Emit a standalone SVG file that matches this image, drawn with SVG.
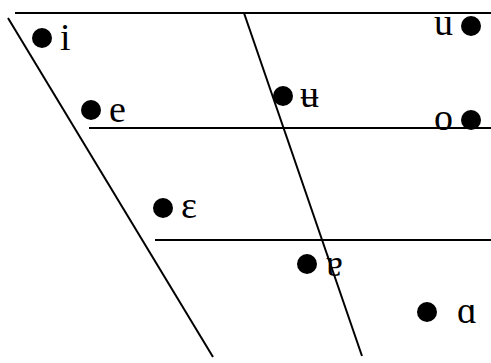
<svg xmlns="http://www.w3.org/2000/svg" width="491" height="363" viewBox="0 0 491 363">
<style>
.ln{stroke:#000;stroke-width:2;fill:none}
.dot{fill:#000}
.lb{font-family:"Liberation Serif","Times New Roman",serif;font-size:38px;fill:#000}
</style>
<rect width="491" height="363" fill="#fff"/>
<g id="connectors">
<line class="ln" x1="15" y1="13" x2="491" y2="13"/>
<line class="ln" x1="89" y1="128" x2="491" y2="128"/>
<line class="ln" x1="155" y1="240" x2="491" y2="240"/>
<line class="ln" x1="8" y1="18" x2="213" y2="357"/>
<line class="ln" x1="244" y1="13" x2="362" y2="356"/>
</g>
<g id="v-i"><circle class="dot" cx="42" cy="38" r="10"/><text class="lb" x="60" y="50">i</text></g>
<g id="v-e"><circle class="dot" cx="91" cy="110" r="10"/><text class="lb" x="109" y="122">e</text></g>
<g id="v-eps"><circle class="dot" cx="163" cy="208" r="10"/><text class="lb" x="181" y="218">ɛ</text></g>
<g id="v-ubar"><circle class="dot" cx="283" cy="96" r="10"/><text class="lb" x="300" y="107">ʉ</text></g>
<g id="v-u"><circle class="dot" cx="471" cy="26" r="10"/><text class="lb" x="453" y="35" text-anchor="end">u</text></g>
<g id="v-o"><circle class="dot" cx="471" cy="120" r="10"/><text class="lb" x="453" y="130" text-anchor="end">o</text></g>
<g id="v-turna"><circle class="dot" cx="307" cy="264" r="10"/><text class="lb" x="326" y="276">ɐ</text></g>
<g id="v-alpha"><circle class="dot" cx="427" cy="312" r="10"/><text class="lb" x="457" y="323">ɑ</text></g>
</svg>
